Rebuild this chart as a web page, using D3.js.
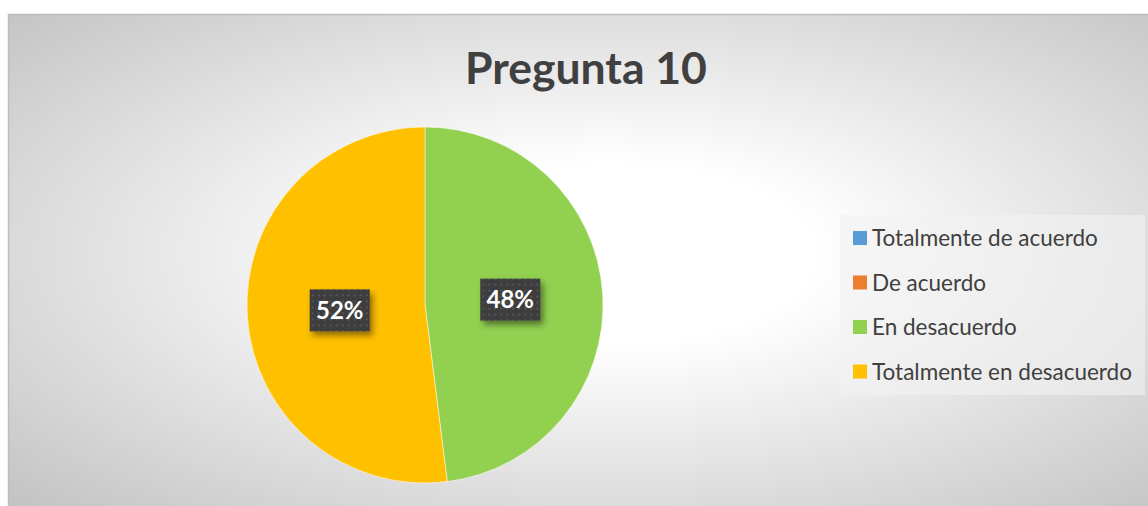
<!DOCTYPE html>
<html>
<head>
<meta charset="utf-8">
<script src="https://cdn.jsdelivr.net/npm/d3@7"></script>
<style>
  body { margin: 0; background: #fff; }
  svg { display: block; font-family: Lato, "Open Sans", sans-serif; }
</style>
</head>
<body>
<svg id="chart" width="1148" height="506"></svg>
<script>
// data
var categories = ["Totalmente de acuerdo", "De acuerdo", "En desacuerdo", "Totalmente en desacuerdo"];
var values = [0, 0, 48, 52];
var colors = ["#5b9bd5", "#ed7d31", "#92d050", "#ffc000"];
var title = "Pregunta 10";

var svg = d3.select("#chart");
var defs = svg.append("defs");

// background gradient, white centre to grey corners
var grad = defs.append("radialGradient")
  .attr("id", "bg")
  .attr("cx", 0.52).attr("cy", 0.48).attr("r", 0.72);
grad.append("stop").attr("offset", "0%").attr("stop-color", "#ffffff");
grad.append("stop").attr("offset", "25%").attr("stop-color", "#ffffff");
grad.append("stop").attr("offset", "100%").attr("stop-color", "#c3c3c3");

// dotted pattern for the data labels
var pat = defs.append("pattern")
  .attr("id", "dots")
  .attr("width", 6).attr("height", 6)
  .attr("patternUnits", "userSpaceOnUse");
pat.append("rect").attr("width", 6).attr("height", 6).attr("fill", "#3d3d3d");
pat.append("rect").attr("x", 2).attr("y", 2).attr("width", 2).attr("height", 2).attr("fill", "#555");

var shadow = defs.append("filter").attr("id", "shadow")
  .attr("x", "-30%").attr("y", "-30%").attr("width", "170%").attr("height", "180%");
shadow.append("feDropShadow")
  .attr("dx", 3).attr("dy", 4).attr("stdDeviation", 3)
  .attr("flood-color", "#000").attr("flood-opacity", 0.45);

// chart area
svg.append("rect")
  .attr("x", 8.5).attr("y", 14.5)
  .attr("width", 1150).attr("height", 500)
  .attr("fill", "url(#bg)")
  .attr("stroke", "#bdbdbd")
  .attr("stroke-width", 1.5);

svg.append("text")
  .attr("x", 586).attr("y", 84)
  .attr("text-anchor", "middle")
  .attr("font-size", 44.5)
  .attr("font-weight", "bold")
  .attr("fill", "#404040")
  .text(title);

// pie
var cx = 425, cy = 305, radius = 178;
var data = categories.map(function(c, i) { return {name: c, value: values[i], color: colors[i]}; });

var pie = d3.pie().sort(null).value(function(d) { return d.value; });
var arc = d3.arc().innerRadius(0).outerRadius(radius);
var labelArc = d3.arc().innerRadius(radius * 0.48).outerRadius(radius * 0.48);

var g = svg.append("g").attr("transform", "translate(" + cx + "," + cy + ")");
var arcs = pie(data).filter(function(d) { return d.data.value > 0; });

g.selectAll("path.slice")
  .data(arcs)
  .enter().append("path")
    .attr("class", "slice")
    .attr("d", arc)
    .attr("fill", function(d) { return d.data.color; })
    .attr("stroke", "#ffffff")
    .attr("stroke-width", 0.5);

var total = d3.sum(values);
var lab = g.selectAll("g.lab")
  .data(arcs)
  .enter().append("g")
    .attr("class", "lab")
    .attr("transform", function(d) {
      var c = labelArc.centroid(d);
      return "translate(" + c[0] + "," + c[1] + ")";
    });

lab.append("rect")
  .attr("x", -30).attr("y", -21)
  .attr("width", 60).attr("height", 42)
  .attr("fill", "url(#dots)")
  .attr("filter", "url(#shadow)");

lab.append("text")
  .attr("text-anchor", "middle")
  .attr("dy", "0.36em")
  .attr("font-size", 24)
  .attr("font-weight", "bold")
  .attr("fill", "#ffffff")
  .text(function(d) { return Math.round(d.data.value / total * 100) + "%"; });

// legend
var legend = svg.append("g").attr("transform", "translate(840,215)");
legend.append("rect")
  .attr("width", 305).attr("height", 180)
  .attr("fill", "#f2f2f2").attr("fill-opacity", 0.6);

var item = legend.selectAll("g.item")
  .data(data)
  .enter().append("g")
    .attr("class", "item")
    .attr("transform", function(d, i) { return "translate(13," + (16 + i * 44.5) + ")"; });

item.append("rect")
  .attr("width", 14).attr("height", 14)
  .attr("fill", function(d) { return d.color; });

item.append("text")
  .attr("x", 19).attr("y", 15)
  .attr("font-size", 22.5)
  .attr("fill", "#404040")
  .text(function(d) { return d.name; });
</script>
</body>
</html>
